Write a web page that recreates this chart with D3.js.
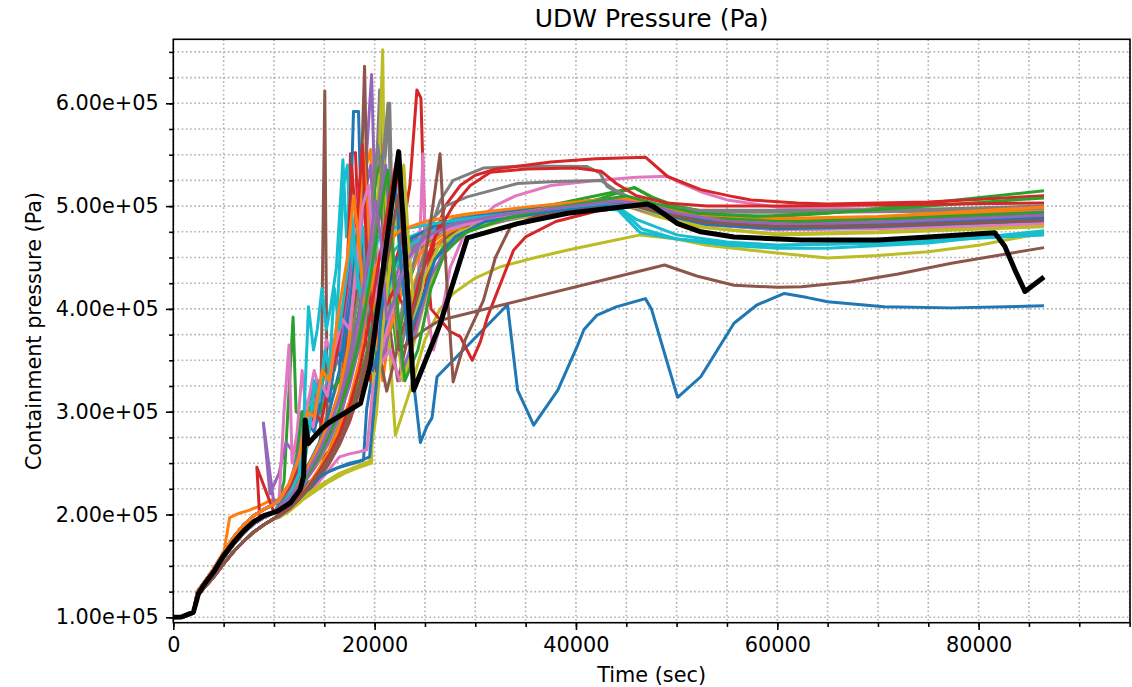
<!DOCTYPE html>
<meta charset="utf-8">
<style type="text/css">
body {
  margin: 0;
  background: #fff;
  font-family: "DejaVu Sans", sans-serif;
}

.grid line {
  stroke: #b0b0b0;
  stroke-width: 1.6px;
  stroke-dasharray: 1.6, 2.6;
}

.axis path {
  display: none;
}

.axis line {
  stroke: #000;
  stroke-width: 1.6px;
}

.axis text {
  font-family: "DejaVu Sans", sans-serif;
  font-size: 20.8px;
  fill: #000;
}

.label {
  font-size: 20.8px;
  fill: #000;
}

.title {
  font-size: 25px;
  fill: #000;
}

.run {
  fill: none;
  stroke-width: 3px;
  stroke-linejoin: round;
}

.mean {
  fill: none;
  stroke: #000;
  stroke-width: 5px;
  stroke-linejoin: round;
}
</style>
<body></body>

<script src="https://cdn.jsdelivr.net/npm/d3@7"></script>
<script>
// all points are [time in ks, pressure in kPa]
var trunkA = [[0,100],[1,100.5],[2,105],[2.4,125],[3,133],[4,147],[5,163],[6,178],[7,190],[8,199],[9,205],[10,210]];
var trunkB = [[0,100],[1,100.4],[2,104.5],[2.5,125],[3,130],[4,143],[5,158],[6,171],[7,182],[8,191],[9,197],[10,202]];
var trunkC = [[0,100],[1,100.3],[2,104],[2.5,122],[3,128],[4,139],[5,152],[6,164],[7,174],[8,183],[9,190],[10,196]];
var trunkHi = [[0,100],[1,100.5],[2,105],[2.4,126],[3,133],[4,147],[5,162],[5.6,197],[6.5,201],[7.5,204],[8.5,208],[9.5,213],[10,215]];

var run0 = trunkB.concat([[10.5,208],[11.5,214],[12.5,222],[13.5,232],[15,240],[16.5,246],[18,250],[18.9,253],[19.2,302],[20.5,380],[21.5,450],[22.4,505],[23.2,420],[23.8,335],[24.55,270],[25.2,286],[25.7,294],[26.2,334],[29,362],[33.2,404],[34.2,321],[35.8,287],[38.2,321],[40.1,363],[40.8,380],[42.1,394],[44,402],[46.9,410],[47.5,400],[48.7,360],[50.1,314],[50.8,320],[52.4,334],[55.7,386],[58,404],[60.7,415],[63,411],[65,407],[70.6,402],[77.3,401],[86.5,403]]);
var run1 = trunkHi.concat([[10.5,212],[11.5,218],[12.5,238],[13,262],[14,275],[15,290],[16,318],[17,350],[17.8,400],[18.5,470],[19.2,540],[19.6,555],[20.2,420],[20.8,330],[21.5,380],[22.5,430],[23.5,458],[25,472],[27,480],[30,487],[35,495],[40,502],[44,508],[46,506],[48,496],[52,488],[58,484],[65,484],[75,487],[86.5,493]]);
var run2 = trunkA.concat([[10.5,215],[11,232],[11.9,392],[12.2,300],[13,295],[13.8,320],[14.5,310],[15.2,350],[16,340],[16.8,380],[17.6,420],[18.3,500],[18.8,548],[19.5,430],[20.2,360],[21,400],[22,440],[23.5,465],[26,478],[30,488],[36,496],[42,505],[45,508],[48,498],[52,487],[60,482],[70,483],[86.5,488]]);
var run3 = trunkB.concat([[8.3,246],[8.6,195],[10.5,205],[11.5,212],[12.5,225],[13.5,238],[14.5,252],[15.5,262],[16.5,290],[17.2,380],[17.6,551],[18.1,552],[18.6,420],[19.6,330],[20.8,360],[22.3,420],[23.8,455],[26,474],[30,488],[36,498],[42,506],[46,506],[49,496],[53,486],[60,481],[70,484],[86.5,492]]);
var run4 = trunkA.concat([[8.95,289],[9.6,220],[10.5,240],[11.2,270],[12,260],[12.8,300],[13.5,290],[14.2,330],[15,310],[15.8,360],[16.5,345],[17.3,420],[18.2,490],[19,520],[19.7,628],[20.1,480],[20.8,370],[21.5,405],[22.5,445],[24,468],[27,482],[32,492],[38,500],[44,506],[47,500],[50,490],[56,482],[65,481],[75,484],[86.5,490]]);
var run5 = trunkB.concat([[10.5,207],[11.5,218],[12.5,230],[13.5,245],[14.6,260],[15.05,612],[15.3,280],[16,300],[17,330],[18,360],[19,380],[20,450],[20.6,520],[21.2,400],[22.3,330],[23.5,380],[24.8,430],[26.3,460],[28,475],[32,487],[40,497],[45,502],[48,494],[52,484],[60,478],[70,480],[86.5,486]]);
var run6 = trunkA.concat([[10.5,212],[11,300],[11.5,365],[11.8,250],[12.3,280],[12.8,340],[13.2,300],[14,340],[14.6,320],[15.2,370],[16,350],[16.6,400],[17.2,380],[17.8,460],[18.5,520],[19.2,490],[20,420],[20.8,360],[21.8,410],[23,450],[25,472],[28,484],[34,494],[40,500],[45,504],[48,496],[52,486],[60,479],[70,480],[86.5,485]]);
var run7 = trunkC.concat([[10.5,200],[11.5,208],[12.5,220],[13.5,240],[14.5,256],[15.5,270],[16.5,290],[17.5,330],[18.5,400],[19.5,470],[20.2,540],[20.5,613],[20.9,480],[21.6,380],[22.5,420],[23.5,455],[25,475],[28,488],[34,497],[40,504],[45,507],[48,498],[52,489],[60,485],[70,487],[86.5,494]]);
var run8 = trunkC.concat([[10.5,198],[11.5,204],[12.5,212],[14,222],[15.5,232],[17,240],[18.5,246],[19.7,250],[20,400],[20.5,560],[20.8,652],[21.1,420],[22.06,277],[23.5,320],[25,370],[26.5,400],[27.8,415],[30,430],[32.5,441],[36,450],[39.1,457],[43,465],[46.4,472],[50,468],[53,462],[57.4,457],[65,449.5],[70,452],[75,455.7],[80,462],[86.5,474]]);
var run9 = trunkA.concat([[10.5,215],[11.5,225],[12.5,245],[13,300],[13.43,402],[13.93,360],[14.3,380],[14.77,420],[15.2,380],[15.6,400],[16.2,440],[16.85,545],[17.2,470],[17.6,520],[18,450],[18.5,480],[19,420],[19.6,380],[20.3,420],[21.3,450],[23,468],[26,480],[30,488],[36,494],[42.4,506],[44,498],[46.4,474],[50,468],[55,464],[60,462],[70,464],[86.5,474]]);
var run10 = trunkB.concat([[10.5,210],[11.5,220],[12.5,236],[13.5,250],[14.5,270],[15.5,300],[16.5,340],[17.4,420],[17.9,592],[18.4,592],[18.8,440],[19.8,340],[21,380],[22.5,430],[24,458],[26.5,475],[30,489],[36,497],[42,503],[46,503],[49,493],[54,483],[62,478],[72,481],[86.5,487]]);
var run11 = trunkC.concat([[10.5,199],[11.5,206],[12.5,216],[13.5,230],[14.5,245],[15.5,262],[16.5,285],[17.5,310],[18.5,350],[19.5,420],[20.3,500],[20.9,560],[21.5,440],[22.2,370],[23,400],[24.5,440],[26,462],[28,478],[33,490],[40,499],[45,503],[48,496],[52,488],[60,484],[70,487],[86.5,496]]);
var run12 = trunkB.concat([[10.5,207],[11.5,220],[12.3,260],[12.8,300],[13.2,290],[13.8,310],[14.5,300],[15.5,320],[16.5,330],[17.5,350],[18.5,400],[19.4,470],[20.2,530],[20.8,550],[21.4,430],[22.2,360],[23.2,420],[24.5,458],[27,478],[31,490],[37,500],[42,510],[45.8,518],[47.5,509],[50,500],[55,491],[60,490],[65,493],[75,503],[86.5,515]]);
var run13 = trunkC.concat([[10.5,198],[11.5,206],[12.5,214],[13.5,224],[14.5,236],[15.5,250],[16.5,268],[17.5,290],[18.5,320],[19.5,360],[20.5,400],[21.5,430],[22.5,460],[23.5,520],[24.2,613],[24.6,605],[25,470],[25.6,400],[27.5,378],[28.5,373],[29.7,350],[30.5,368],[31.2,392],[33.8,457],[35,470],[38,485],[42,495],[46,500],[49,494],[53,485],[60,480],[70,482],[86.5,489]]);
var run14 = trunkA.concat([[10.5,214],[11.5,230],[12.5,260],[13.2,300],[13.8,290],[14.5,330],[15.2,320],[15.8,370],[16.5,360],[17.2,410],[17.8,450],[18.3,440],[19,510],[19.6,540],[20.2,430],[20.9,350],[21.7,395],[22.8,440],[24.5,466],[27,480],[32,490],[38,497],[44,503],[47,500],[50,490],[56,481],[64,479],[75,482],[86.5,487]]);
var run15 = trunkB.concat([[10.5,206],[11.5,214],[12.5,226],[13.5,240],[14.5,255],[15.5,275],[16.5,300],[17.5,340],[18.4,440],[19,636],[19.3,480],[20,380],[21.2,320],[22.5,370],[24,420],[25.5,452],[27.5,472],[31,488],[37,496],[43,503],[46,502],[49,494],[53,486],[60,482],[70,484],[86.5,490]]);
var run16 = trunkC.concat([[10.5,197],[11.5,204],[12.5,213],[13.5,222],[14.5,232],[15.5,244],[16.5,256],[17.5,259],[18.5,261],[19.24,263],[19.8,320],[20.5,345],[21.5,360],[22.5,330],[23.5,345],[24.3,420],[24.8,551],[25.2,400],[25.85,360],[26.4,380],[27.5,440],[29,475],[31.9,500],[34,510],[37.5,520],[42,525],[46,528],[49.1,529],[50.5,522],[52.4,514],[55,506],[60,499],[70,497],[86.5,497]]);
var run17 = trunkA.concat([[10.5,213],[11.5,222],[12.5,236],[13.5,250],[14.5,268],[15.5,290],[16.5,320],[17.5,360],[18.5,420],[19.5,480],[20.3,560],[20.8,520],[21.5,600],[21.9,420],[22.6,360],[23.5,400],[24.5,440],[25.5,475],[26.5,505],[27.8,525],[30.8,537],[35,539],[41.1,538.5],[42.4,532],[43.1,519],[45,508],[48,500],[52,496],[57.4,496],[65,496],[75,497],[86.5,500]]);
var run18 = trunkB.concat([[10.5,206],[11.5,214],[12.5,225],[13.5,240],[14.5,252],[15.5,270],[16.5,295],[17.5,330],[18.5,380],[19.5,440],[20.3,510],[20.9,545],[21.6,420],[22.8,330],[24,370],[25.3,420],[26.8,455],[29,475],[33,486],[38,494],[42,500],[45,500],[48,490],[52,480],[60,473],[70,475],[86.5,482]]);
var run19 = trunkC.concat([[10.5,200],[11.5,210],[12.5,225],[13.2,260],[13.8,310],[14.3,290],[14.9,300],[15.5,340],[16.2,380],[16.9,520],[17.3,540],[17.6,460],[18.2,420],[18.8,480],[19.4,420],[20,360],[20.8,400],[22,440],[23.5,462],[26,476],[30,485],[36,492],[42,498],[44.5,496],[46.5,478],[50,468],[55,462],[60,459],[65,459],[75,464],[86.5,476]]);
var run20 = trunkA.concat([[10.5,212],[11.5,228],[12.5,250],[13.3,290],[14,280],[14.8,320],[15.5,310],[16.2,360],[16.8,350],[17.5,400],[18.3,470],[18.9,530],[19.5,455],[20.2,380],[21,410],[22,445],[23.5,468],[26,481],[30,490],[36,498],[42,503],[46,504],[49,494],[54,484],[62,480],[72,483],[86.5,489]]);
var run21 = trunkB.concat([[10.5,207],[11.5,216],[12.5,230],[13.5,248],[14.5,268],[15.5,290],[16.5,320],[17.5,370],[18.3,460],[18.9,552],[19.4,470],[20.3,360],[21.5,380],[23,425],[24.8,458],[27,474],[31,489],[38,499],[43,505],[46,505],[49,497],[53,489],[60,486],[70,489],[86.5,498]]);
var run22 = trunkC.concat([[10.5,199],[11.5,205],[12.5,214],[13.5,226],[14.5,240],[15.5,256],[16.5,276],[17.5,300],[18.5,330],[19.5,370],[20.5,420],[21.3,480],[22,520],[22.6,440],[23.5,370],[24.5,400],[25.8,445],[27.5,470],[31,485],[37,496],[42,506],[45.8,518],[47.5,509],[50,497],[55,488],[62,485],[72,488],[86.5,494]]);
var run23 = trunkA.concat([[10.5,214],[11.5,226],[12.5,245],[13.3,275],[14,300],[14.7,290],[15.5,330],[16.3,360],[17.2,420],[17.7,540],[18.2,480],[18.8,560],[19.3,430],[20,370],[21,400],[22,420],[23,400],[24,380],[25,420],[26,470],[27,500],[28.5,520],[30,530],[32,536],[37.5,543],[42,546],[46.9,547.6],[49.1,528.8],[52.4,516],[55.7,509],[57.4,506],[62,503],[65,502],[75,504],[86.5,510]]);
var run24 = trunkB.concat([[10.5,206],[11.5,213],[12.5,224],[13.5,238],[14.5,254],[15.5,272],[16.5,296],[17.5,325],[18.5,365],[19.5,420],[20.4,490],[21.1,540],[21.7,450],[22.8,340],[24,375],[25.5,430],[27.3,462],[30,480],[36,492],[42,499],[45,500],[48,492],[52,483],[60,477],[70,479],[86.5,484]]);
var run25 = trunkC.concat([[10.5,198],[11.5,205],[12.5,214],[13.5,224],[14.5,236],[15.5,250],[16.5,268],[17.5,292],[18.5,320],[19.5,360],[20.5,420],[21.3,480],[21.9,430],[22.4,360],[23.5,368],[25,380],[26.5,389],[48.8,442.7],[52,432],[55.7,423],[60,421],[62.4,421.6],[67.4,426.5],[72,434],[77.3,444.5],[86.5,459.6]]);
var run26 = trunkA.concat([[10.5,213],[11.5,230],[12.5,255],[13.2,300],[13.9,285],[14.6,330],[15.3,315],[16,360],[16.8,390],[17.5,380],[18.2,440],[18.8,500],[19.4,520],[20,430],[20.7,360],[21.5,390],[22.6,430],[24,458],[26.5,475],[31,487],[37,495],[43,501],[46,500],[49,491],[53,482],[60,477],[70,478],[86.5,483]]);
var run27 = trunkB.concat([[10.5,208],[11.5,216],[12.5,228],[13.5,242],[14.5,258],[15.5,278],[16.5,302],[17.5,335],[18.5,380],[19.5,440],[20.5,510],[21.33,600],[21.7,470],[22.3,380],[23.2,420],[24.3,460],[25.5,485],[27,500],[29.2,509],[34.2,522],[38,524],[42.5,525],[44,515],[46,505],[49,497],[53,494],[57.4,494],[65,494],[75,495],[86.5,498]]);
var run28 = trunkC.concat([[10.5,197],[11.5,203],[12.5,211],[13.5,221],[14.5,228],[15.5,234],[16.5,240],[17.5,244],[18.5,248],[19.5,252],[20.2,300],[20.8,380],[21.5,440],[22.3,500],[22.9,540],[23.4,460],[24,390],[24.9,430],[26.3,460],[28.5,476],[32,486],[38,494],[43,500],[46,499],[49,489],[53,479],[60,472],[70,474],[86.5,480]]);
var run29 = trunkB.concat([[10.5,206],[11.5,218],[12.5,240],[13.1,300],[13.5,280],[14,330],[14.5,310],[15.1,360],[15.5,340],[16,420],[16.5,380],[17.2,430],[17.8,480],[18.3,430],[18.9,400],[19.6,440],[20.4,470],[21.5,480],[23,478],[26,483],[30,489],[36,495],[42,501],[44,500],[46,487],[50,472],[55,465],[60,462],[70,464],[86.5,472]]);
var run30 = trunkC.concat([[10.5,200],[11.5,208],[12.5,215],[13.5,226],[14.5,236],[15.5,242],[16.5,246],[17.5,250],[18.5,252],[19.5,256],[20.2,330],[20.8,420],[21.4,500],[22,530],[22.6,450],[23.3,370],[24.6,405],[26,448],[28,470],[31,485],[37,494],[43,500],[46,500],[49,491],[53,482],[60,478],[70,480],[86.5,486]]);
var run31 = trunkA.concat([[10.5,214],[11.5,230],[12.5,255],[13.3,300],[14,295],[14.8,340],[15.5,330],[16.3,390],[17.3,450],[17.9,510],[18.4,470],[19,400],[19.8,430],[20.8,460],[22.5,476],[25,485],[29,492],[35,499],[41,505],[45,508],[48,501],[52,492],[60,488],[70,490],[86.5,499]]);
var run32 = trunkB.concat([[10.5,207],[11.5,214],[12.5,226],[13.5,241],[14.5,258],[15.5,278],[16.5,302],[17.5,332],[18.5,372],[19.5,425],[20.5,490],[21.3,535],[21.9,440],[23,330],[24.3,360],[25.6,420],[27,455],[29,474],[33,488],[37,497],[42,505],[45,510],[48,502],[52,493],[58,490],[66,494],[75,500],[86.5,508]]);
var run33 = trunkC.concat([[10.5,199],[11.5,206],[12.5,216],[13.5,228],[14.5,242],[15.5,258],[16.5,278],[17.5,305],[18.5,340],[19.5,390],[20.5,450],[21.5,510],[22.2,545],[22.8,470],[23.5,390],[24.5,430],[26,470],[27.8,500],[29.5,520],[31.5,533],[35,536],[40,537],[42.5,534],[44,522],[46,510],[49,503],[53,500],[60,500],[70,501],[86.5,503]]);
var run34 = trunkB.concat([[10.5,207],[11.5,216],[12.5,228],[13.5,244],[14.5,262],[15.5,284],[16.5,312],[17.5,348],[18.5,395],[19.4,455],[20.1,505],[20.6,470],[21.2,390],[22,410],[23.2,448],[25,470],[28,483],[33,492],[39,499],[44,505],[47,502],[50,493],[55,485],[62,482],[72,485],[86.5,491]]);
var run35 = trunkC.concat([[10.5,198],[11.5,205],[12.5,215],[13.5,227],[14.5,240],[15.5,255],[16.5,272],[17.5,295],[18.5,325],[19.5,365],[20.5,410],[21.5,460],[22.3,510],[22.9,470],[23.6,390],[24.5,420],[25.5,480],[26.5,551],[27.2,420],[27.8,329],[29,370],[30.8,408],[32,450],[33.5,480],[36,490],[42,498],[46,500],[49,492],[53,484],[60,480],[70,481],[86.5,486]]);

var meanRun = [[0,100],[0.8,100.3],[2,105],[2.5,123],[3,131],[4,144],[5,160],[6,173],[7,184],[8,193],[9,199],[10.3,203],[11.6,211],[12.6,224],[12.94,237],[13.1,292],[13.4,269],[14.6,282],[15.4,289],[18.6,308],[19.6,347],[22.39,553],[22.9,477],[23.88,321],[26.5,385],[29.2,469],[34.2,483],[39.2,493],[47.1,502],[47.7,499.5],[50.1,483],[52.4,475],[55.7,470],[62.4,467],[70,467],[75,470],[81.6,474],[82.6,461],[83.6,438],[84.6,417],[86.5,431]];

var runs = [run0, run1, run2, run3, run4, run5, run6, run7, run8, run9,
  run10, run11, run12, run13, run14, run15, run16, run17, run18, run19,
  run20, run21, run22, run23, run24, run25, run26, run27, run28, run29,
  run30, run31, run32, run33, run34, run35];

var xMajor = [0, 20000, 40000, 60000, 80000];
var yMajor = [100000, 200000, 300000, 400000, 500000, 600000];
var xMinor = d3.range(0, 95001, 5000);
var yMinor = d3.range(100000, 662000, 25000);

var margin = { top: 39.3, right: 2, bottom: 64.3, left: 173.3 };
var width = 1132 - margin.left - margin.right;
var height = 687 - margin.top - margin.bottom;

var svg = d3.select("body")
  .append("svg")
    .attr("width", 1132)
    .attr("height", 687)
  .append("g")
    .attr("transform", "translate(" + margin.left + "," + margin.top + ")");

var xscale = d3.scaleLinear()
  .domain([0, 95040])
  .range([0, width]);

var yscale = d3.scaleLinear()
  .domain([94750, 662260])
  .range([height, 0]);

var color = d3.scaleOrdinal(d3.schemeCategory10);

// grid on major and minor ticks
var grid = svg.append("g").attr("class", "grid");
grid.selectAll("line.gx")
  .data(xMinor)
  .enter().append("line")
    .attr("x1", function(d) { return xscale(d); })
    .attr("x2", function(d) { return xscale(d); })
    .attr("y1", 0)
    .attr("y2", height);
grid.selectAll("line.gy")
  .data(yMinor)
  .enter().append("line")
    .attr("x1", 0)
    .attr("x2", width)
    .attr("y1", function(d) { return yscale(d); })
    .attr("y2", function(d) { return yscale(d); });

var line = d3.line()
  .x(function(d) { return xscale(d[0] * 1000); })
  .y(function(d) { return yscale(d[1] * 1000); });

svg.append("clipPath")
    .attr("id", "plot")
  .append("rect")
    .attr("width", width)
    .attr("height", height);

var plot = svg.append("g").attr("clip-path", "url(#plot)");

plot.selectAll("path.run")
  .data(runs)
  .enter().append("path")
    .attr("class", "run")
    .attr("d", line)
    .style("stroke", function(d, i) { return color(i % 10); });

plot.append("path")
  .datum(meanRun)
  .attr("class", "mean")
  .attr("d", line);

// axes
var fmt = function(d) {
  return d3.format(".2e")(d).replace(/e([+-])(\d)$/, "e$10$2");
};

svg.append("g")
  .attr("class", "x axis")
  .attr("transform", "translate(0," + height + ")")
  .call(d3.axisBottom(xscale).tickValues(xMinor).tickSize(4.2).tickFormat(""));

svg.append("g")
  .attr("class", "x axis")
  .attr("transform", "translate(0," + height + ")")
  .call(d3.axisBottom(xscale).tickValues(xMajor).tickSize(7.3).tickPadding(7.3).tickFormat(d3.format("d")));

svg.append("g")
  .attr("class", "y axis")
  .call(d3.axisLeft(yscale).tickValues(yMinor).tickSize(4.2).tickFormat(""));

svg.append("g")
  .attr("class", "y axis")
  .call(d3.axisLeft(yscale).tickValues(yMajor).tickSize(7.3).tickPadding(7.3).tickFormat(fmt));

svg.append("rect")
  .attr("width", width)
  .attr("height", height)
  .style("fill", "none")
  .style("stroke", "#000")
  .style("stroke-width", "1.6px");

svg.append("text")
  .attr("class", "title")
  .attr("x", width / 2)
  .attr("y", -12.5)
  .attr("text-anchor", "middle")
  .text("UDW Pressure (Pa)");

svg.append("text")
  .attr("class", "label")
  .attr("x", width / 2)
  .attr("y", height + 59)
  .attr("text-anchor", "middle")
  .text("Time (sec)");

svg.append("text")
  .attr("class", "label")
  .attr("transform", "translate(" + (41 - margin.left) + "," + (height / 2) + ") rotate(-90)")
  .attr("text-anchor", "middle")
  .text("Containment pressure (Pa)");
</script>
